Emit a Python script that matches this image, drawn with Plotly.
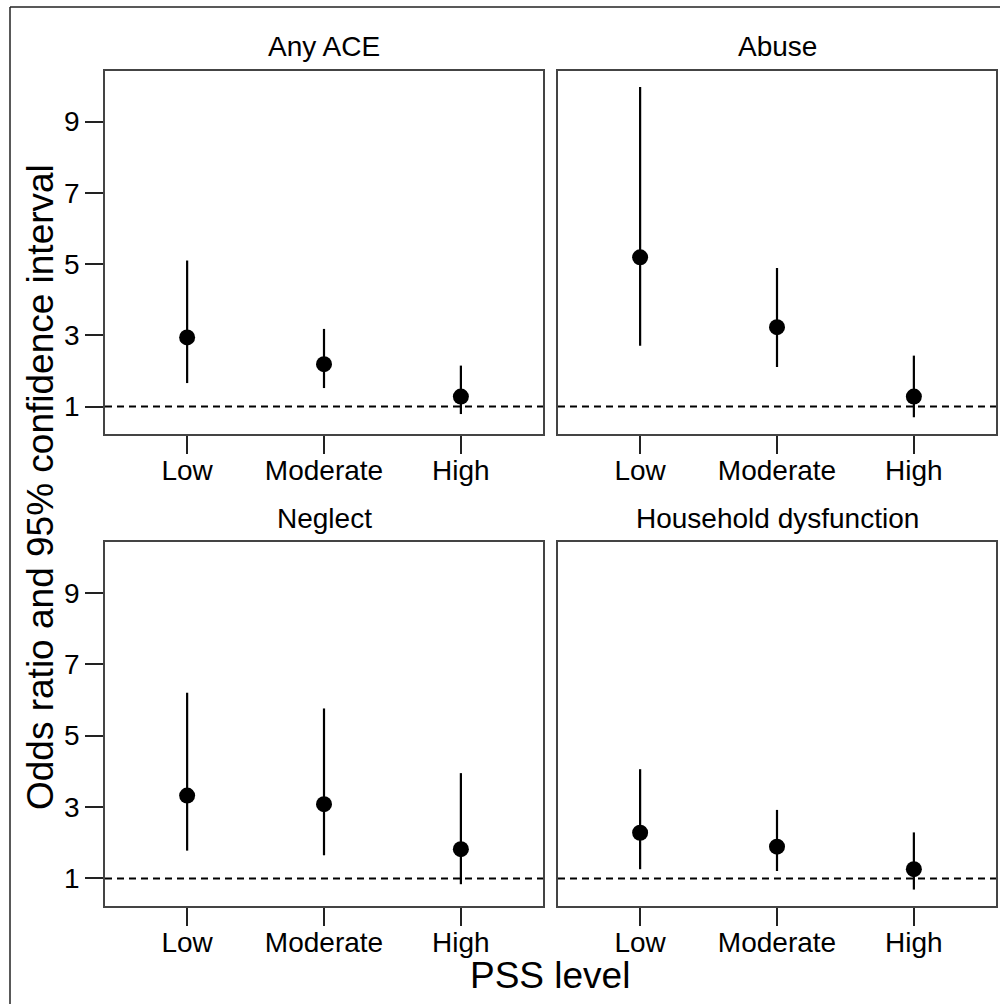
import plotly.graph_objects as go

categories = ["Low", "Moderate", "High"]
panel_titles = ["Any ACE", "Abuse", "Neglect", "Household dysfunction"]

any_or = [2.94, 2.19, 1.28]
any_lo = [1.66, 1.52, 0.79]
any_hi = [5.10, 3.18, 2.15]

abuse_or = [5.19, 3.23, 1.28]
abuse_lo = [2.71, 2.11, 0.70]
abuse_hi = [9.97, 4.89, 2.43]

neglect_or = [3.32, 3.08, 1.82]
neglect_lo = [1.78, 1.65, 0.84]
neglect_hi = [6.20, 5.76, 3.95]

house_or = [2.28, 1.89, 1.26]
house_lo = [1.26, 1.21, 0.69]
house_hi = [4.06, 2.92, 2.29]

y_ticks = [1, 3, 5, 7, 9]
ref_line = 1

series = [
    (any_or, any_lo, any_hi),
    (abuse_or, abuse_lo, abuse_hi),
    (neglect_or, neglect_lo, neglect_hi),
    (house_or, house_lo, house_hi),
]

W, H = 1000, 1004
FONT = "Liberation Sans, Arial, Helvetica, sans-serif"

# panel boxes in pixels (left, right, top, bottom)
boxes = [
    (105, 543, 71, 434),
    (558, 996, 71, 434),
    (105, 543, 542, 906),
    (558, 996, 542, 906),
]

fig = go.Figure()
layout = {}
shapes = []
annotations = []

for i, ((orv, lo, hi), title, (l, r, t, b)) in enumerate(zip(series, panel_titles, boxes)):
    n = "" if i == 0 else str(i + 1)
    xa, ya = "x" + n, "y" + n
    plus = [h - o for h, o in zip(hi, orv)]
    minus = [o - lw for o, lw in zip(orv, lo)]
    fig.add_trace(go.Scatter(
        x=categories, y=orv, mode="markers", xaxis=xa, yaxis=ya,
        marker=dict(size=16, color="black"),
        error_y=dict(type="data", symmetric=False, array=plus, arrayminus=minus,
                     width=0, thickness=2.2, color="black"),
        showlegend=False, cliponaxis=False,
    ))
    left = i in (0, 2)
    layout["xaxis" + n] = dict(
        domain=[l / W, r / W], anchor=ya, type="category",
        range=[-0.6, 2.6], showline=True, mirror=True, linecolor="#444",
        linewidth=1.5, ticks="outside", ticklen=18, tickwidth=1.8,
        tickcolor="#222", showgrid=False, zeroline=False,
        ticklabelstandoff=-7,
        tickfont=dict(family=FONT, size=28, color="black"),
        fixedrange=True,
    )
    layout["yaxis" + n] = dict(
        domain=[1 - b / H, 1 - t / H], anchor=xa,
        range=[0.23, 10.42], showline=True, mirror=True, linecolor="#444",
        linewidth=1.5, ticks="outside" if left else "", ticklen=18,
        tickwidth=1.8, tickcolor="#222", showgrid=False, zeroline=False,
        tickvals=y_ticks, showticklabels=left,
        tickfont=dict(family=FONT, size=28, color="black"),
        fixedrange=True,
    )
    shapes.append(dict(
        type="line", xref=xa + " domain", yref=ya, x0=0, x1=1,
        y0=ref_line, y1=ref_line, layer="below",
        line=dict(color="black", width=2, dash="7px,5px"),
    ))
    annotations.append(dict(
        text=title, xref="paper", yref="paper",
        x=(l + r) / 2 / W, y=1 - (t - 24) / H, xanchor="center", yanchor="middle",
        showarrow=False, font=dict(family=FONT, size=28, color="black"),
    ))

annotations.append(dict(
    text="Odds ratio and 95% confidence interval", xref="paper", yref="paper",
    x=40 / W, y=1 - 487 / H, xanchor="center", yanchor="middle", textangle=-90,
    showarrow=False, font=dict(family=FONT, size=37, color="black"),
))
annotations.append(dict(
    text="PSS level", xref="paper", yref="paper",
    x=550 / W, y=1 - 975 / H, xanchor="center", yanchor="middle",
    showarrow=False, font=dict(family=FONT, size=37, color="black"),
))

# outer frame (top and left edges visible)
shapes.append(dict(type="line", xref="paper", yref="paper", x0=10 / W, x1=1.0,
                   y0=1 - 7 / H, y1=1 - 7 / H, line=dict(color="#222", width=1.5)))
shapes.append(dict(type="line", xref="paper", yref="paper", x0=10 / W, x1=10 / W,
                   y0=0, y1=1 - 7 / H, line=dict(color="#222", width=1.5)))

fig.update_layout(
    width=W, height=H, margin=dict(l=0, r=0, t=0, b=0),
    paper_bgcolor="white", plot_bgcolor="white",
    shapes=shapes, annotations=annotations,
    font=dict(family=FONT, color="black"),
    **layout,
)

fig.write_html("out.html", config={"displayModeBar": False})
